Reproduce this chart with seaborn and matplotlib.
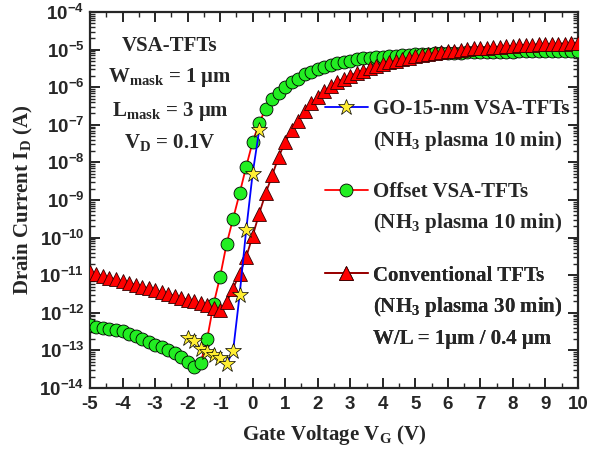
"""Transfer curves (ID-VG) of VSA-TFTs vs conventional TFTs, log scale."""

import matplotlib

matplotlib.use("Agg")
import matplotlib.pyplot as plt
import numpy as np
import seaborn as sns
from matplotlib.lines import Line2D
from matplotlib.ticker import LogLocator, MultipleLocator, NullFormatter

# gate voltage sweeps (V)
vg_sweep = [round(-5.0 + 0.2 * i, 1) for i in range(76)]
vg_go = [-2.0, -1.8, -1.6, -1.4, -1.2, -1.0, -0.8, -0.6, -0.4, -0.2, 0.0, 0.2]

# drain currents (A)
id_offset = [
    4.6e-13, 4.3e-13, 4.0e-13, 3.7e-13, 3.5e-13, 3.2e-13, 2.8e-13, 2.4e-13, 2.0e-13, 1.7e-13,
    1.4e-13, 1.2e-13, 1.0e-13, 8.3e-14, 6.5e-14, 4.9e-14, 3.6e-14, 4.6e-14, 2.0e-13, 1.7e-12,
    9.1e-12, 6.8e-11, 3.2e-10, 1.5e-09, 7.6e-09, 3.5e-08, 1.1e-07, 2.7e-07, 5.0e-07, 7.2e-07,
    1.0e-06, 1.35e-06, 1.7e-06, 2.2e-06, 2.6e-06, 3.1e-06, 3.5e-06, 4.0e-06, 4.5e-06, 4.8e-06,
    5.1e-06, 5.5e-06, 5.8e-06, 6.0e-06, 6.3e-06, 6.5e-06, 6.8e-06, 6.9e-06, 7.1e-06, 7.4e-06,
    7.6e-06, 7.6e-06, 7.8e-06, 7.9e-06, 8.1e-06, 8.1e-06, 8.3e-06, 8.3e-06, 8.5e-06, 8.5e-06,
    8.5e-06, 8.7e-06, 8.7e-06, 8.7e-06, 8.8e-06, 8.8e-06, 8.9e-06, 8.9e-06, 8.9e-06, 8.9e-06,
    9.1e-06, 9.1e-06, 9.1e-06, 9.1e-06, 9.1e-06, 9.3e-06,
]
id_conv = [
    1.2e-11, 1.07e-11, 9.5e-12, 8.5e-12, 7.8e-12, 6.9e-12, 6.2e-12, 5.5e-12, 5.0e-12, 4.5e-12,
    4.0e-12, 3.5e-12, 3.2e-12, 2.8e-12, 2.5e-12, 2.2e-12, 2.0e-12, 1.8e-12, 1.6e-12, 1.3e-12,
    1.2e-12, 1.9e-12, 4.4e-12, 1.1e-11, 3.0e-11, 1.1e-10, 4.3e-10, 1.5e-09, 4.5e-09, 1.4e-08,
    3.5e-08, 7.1e-08, 1.3e-07, 2.3e-07, 3.7e-07, 5.6e-07, 7.8e-07, 1.05e-06, 1.38e-06, 1.7e-06,
    2.0e-06, 2.4e-06, 2.75e-06, 3.2e-06, 3.6e-06, 4.2e-06, 4.6e-06, 5.0e-06, 5.5e-06, 6.0e-06,
    6.6e-06, 7.1e-06, 7.6e-06, 8.1e-06, 8.5e-06, 8.9e-06, 9.3e-06, 9.8e-06, 1.02e-05, 1.07e-05,
    1.1e-05, 1.12e-05, 1.17e-05, 1.2e-05, 1.23e-05, 1.26e-05, 1.29e-05, 1.32e-05, 1.35e-05, 1.38e-05,
    1.38e-05, 1.41e-05, 1.45e-05, 1.45e-05, 1.48e-05, 1.48e-05,
]
id_go = [2.2e-13, 1.8e-13, 1.07e-13, 9.1e-14, 7.6e-14, 6.2e-14, 4.3e-14, 9.8e-14, 3.0e-12, 1.55e-10, 5.0e-09, 7.1e-08]

series_labels = ["GO-15-nm VSA-TFTs", "Offset VSA-TFTs", "Conventional TFTs"]
series_notes = [["(NH$_\\mathdefault{3}$ plasma 10 min)"],
                ["(NH$_\\mathdefault{3}$ plasma 10 min)"],
                ["(NH$_\\mathdefault{3}$ plasma 30 min)", "W/L = 1\u03bcm / 0.4 \u03bcm"]]
inset_lines = ["VSA-TFTs", "W$_\\mathdefault{mask}$ = 1 \u03bcm",
               "L$_\\mathdefault{mask}$ = 3 \u03bcm", "V$_\\mathdefault{D}$ = 0.1V"]

SERIF = "Liberation Serif"
SANS = "Liberation Sans"

sns.set_theme(style="ticks")
plt.rcParams.update({
    "font.family": [SERIF, "DejaVu Sans"],
    "font.weight": "bold",
    "axes.linewidth": 1.6,
    "axes.unicode_minus": False,
    "xtick.direction": "in",
    "ytick.direction": "in",
    "xtick.top": True,
    "ytick.right": True,
})

fig = plt.figure(figsize=(5.9, 4.49), dpi=100)
ax = fig.add_axes([0.1525, 0.1359, 0.8271, 0.8374])

styles = {
    "offset": dict(marker="o", color="#ff0000", markerfacecolor="#22ee22", markeredgecolor="black",
                   markersize=9.3, markeredgewidth=0.6, linewidth=1.3),
    "conv": dict(marker="^", color="#990000", markerfacecolor="#ff0000", markeredgecolor="#330000",
                 markersize=10.5, markeredgewidth=0.6, linewidth=1.3),
    "go": dict(marker="*", color="#0000ff", markerfacecolor="#ffee33", markeredgecolor="black",
               markersize=12, markeredgewidth=0.5, linewidth=1.3),
}

sns.lineplot(x=vg_sweep, y=id_offset, ax=ax, sort=False, estimator=None, zorder=3, **styles["offset"])
sns.lineplot(x=vg_sweep, y=id_conv, ax=ax, sort=False, estimator=None, zorder=4, **styles["conv"])
sns.lineplot(x=vg_go, y=id_go, ax=ax, sort=False, estimator=None, zorder=5, **styles["go"])

ax.set_yscale("log")
ax.set_xlim(-5, 10)
ax.set_ylim(1e-14, 1e-4)
ax.xaxis.set_major_locator(MultipleLocator(1))
ax.xaxis.set_minor_locator(MultipleLocator(0.5))
ax.yaxis.set_major_locator(LogLocator(base=10, numticks=20))
ax.yaxis.set_minor_locator(LogLocator(base=10, subs=np.arange(2, 10), numticks=20))
ax.yaxis.set_minor_formatter(NullFormatter())
ax.tick_params(which="major", length=7, width=1.4)
ax.tick_params(which="minor", length=3.5, width=1.0)
ax.tick_params(axis="x", which="major", pad=6)
ax.tick_params(axis="y", which="major", pad=4)
for lab in ax.get_xticklabels() + ax.get_yticklabels():
    lab.set_fontfamily(SANS)
    lab.set_fontweight("bold")
    lab.set_fontsize(13.5)

ax.set_xlabel("Gate Voltage V$_\\mathdefault{G}$ (V)", fontsize=15, fontweight="bold", labelpad=7)
ax.set_ylabel("Drain Current I$_\\mathdefault{D}$ (A)", fontsize=15, fontweight="bold", labelpad=3)

# text block top-left
for txt, yb in zip(inset_lines, [0.897, 0.8146, 0.7234, 0.638]):
    ax.text(0.164, yb, txt, transform=ax.transAxes, ha="center", va="baseline",
            fontsize=15, fontweight="bold")

# legend: one box per series, extra lines as blank-handle rows
handles = [Line2D([], [], **styles[k]) for k in ("go", "offset", "conv")]
blank = Line2D([], [], linestyle="none")
centres = [0.697, 0.477, 0.215]
for h, lab, notes, yc in zip(handles, series_labels, series_notes, centres):
    leg = ax.legend([h] + [blank] * len(notes), [lab] + notes, loc="center left",
                    bbox_to_anchor=(0.4816, yc), frameon=False, borderpad=0, borderaxespad=0,
                    handlelength=2.06, handletextpad=0.26, labelspacing=0.45,
                    prop={"family": SERIF, "weight": "bold", "size": 15})
    ax.add_artist(leg)

fig.savefig("out.png", dpi=100)
